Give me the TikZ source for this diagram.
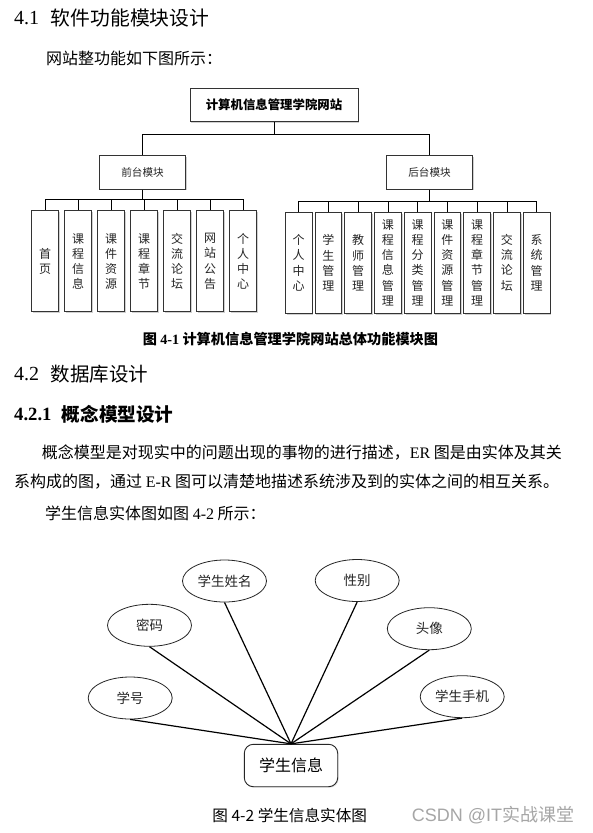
\documentclass[tikz,border=0pt]{standalone}
\usepackage{fontspec}
\setmainfont{Noto Sans CJK SC}
\newfontfamily\lat{Liberation Serif}
\newfontfamily\lsans{Liberation Sans}
\usetikzlibrary{shapes.geometric,shadows}
\newcommand\fsz[2]{\fontsize{#1pt}{#2pt}\selectfont}
\tikzset{
  txt/.style={inner sep=0pt, anchor=west, text=black},
  mbox/.style={draw=black!80, line width=0.9pt, fill=white,
    drop shadow={shadow xshift=1.2pt, shadow yshift=-1.2pt, fill=black!30, opacity=0.6},
    inner sep=0pt, align=center, text=black!85},
  kid/.style={mbox, minimum width=27pt, minimum height=101pt, font=\fsz{12}{15.1}},
  wire/.style={line width=0.9pt, draw=black},
  attr/.style={ellipse, draw=black!85, line width=0.8pt, fill=white, minimum width=84pt,
    minimum height=42pt, inner sep=0pt, font=\fsz{13.5}{16}, text=black!85},
  erline/.style={line width=1.2pt, draw=black},
}
\begin{document}
\begin{tikzpicture}[x=1pt,y=-1pt]
\useasboundingbox (0,0) rectangle (593,833);
\fill[white] (0,0) rectangle (593,833);

% headings and text
\node[txt, font=\lat\fsz{20}{24}] (h1n) at (14,18.2) {4.1};
\node[txt, font=\fsz{19.8}{24}] (h1t) at (50.7,18.2) {软件功能模块设计};
\node[txt, font=\fsz{16}{20}] (p0) at (46,58.7) {网站整功能如下图所示：};

% module chart
\node[mbox, minimum width=168pt, minimum height=33.7pt, font=\bfseries\fsz{12.4}{15}, text=black] (top) at (274,104.9) {计算机信息管理学院网站};
\node[mbox, minimum width=85.6pt, minimum height=33.7pt, font=\fsz{10.6}{13}] (front) at (142.5,172.2) {前台模块};
\node[mbox, minimum width=86.4pt, minimum height=33.7pt, font=\fsz{10.6}{13}] (back) at (429.5,172.2) {后台模块};
\coordinate (tbus) at (274,134);
\draw[wire] (top.south) -- (tbus);
\draw[wire] (tbus) -| (front.north);
\draw[wire] (tbus) -| (back.north);

\coordinate (fbus) at (142.5,199.3);
\coordinate (bbus) at (429.5,201.7);
\draw[wire] (front.south) -- (fbus);
\draw[wire] (back.south) -- (bbus);

\foreach \t [count=\i from 0] in {{首\\页},{课\\程\\信\\息},{课\\件\\资\\源},{课\\程\\章\\节},{交\\流\\论\\坛},{网\\站\\公\\告},{个\\人\\中\\心}}{
  \node[kid] (f\i) at ({45.2+33*\i},261.3) {\t};
  \draw[wire] (fbus) -| (f\i.north);
}
\foreach \t [count=\i from 0] in {{个\\人\\中\\心},{学\\生\\管\\理},{教\\师\\管\\理},{课\\程\\信\\息\\管\\理},{课\\程\\分\\类\\管\\理},{课\\件\\资\\源\\管\\理},{课\\程\\章\\节\\管\\理},{交\\流\\论\\坛},{系\\统\\管\\理}}{
  \node[kid, minimum width=26.7pt] (b\i) at ({298.7+29.75*\i},262.8) {\t};
  \draw[wire] (bbus) -| (b\i.north);
}

\node[font=\bfseries\fsz{14.2}{17}, inner sep=0pt] (cap1) at (290.5,339) {图 {\lat\bfseries 4-1} 计算机信息管理学院网站总体功能模块图};

\node[txt, font=\lat\fsz{20}{24}] (h2n) at (14,374.2) {4.2};
\node[txt, font=\fsz{19.5}{24}] (h2t) at (50.7,374.2) {数据库设计};
\node[txt, font=\lat\bfseries\fsz{18.7}{22}] (h3n) at (14,414) {4.2.1};
\node[txt, font=\bfseries\fsz{18.6}{22}] (h3t) at (61.7,414) {概念模型设计};

\node[txt, font=\fsz{16}{20}] (l1) at (41.7,452.5) {概念模型是对现实中的问题出现的事物的进行描述，{\lat ER} 图是由实体及其关};
\node[txt, font=\fsz{16}{20}] (l2) at (14,482) {系构成的图，通过 {\lat E-R} 图可以清楚地描述系统涉及到的实体之间的相互关系。};
\node[txt, font=\fsz{16}{20}] (l3) at (45,513.5) {学生信息实体图如图 {\lat 4-2} 所示：};

% ER diagram
\node[attr] (xm) at (224.5,581) {学生姓名};
\node[attr] (xb) at (357.2,580.5) {性别};
\node[attr] (mm) at (149.5,625.3) {密码};
\node[attr] (tx) at (429.3,628.7) {头像};
\node[attr] (xh) at (130.2,698) {学号};
\node[attr] (sj) at (462.2,696.7) {学生手机};
\node[draw=black!85, line width=0.9pt, rounded corners=9pt, fill=white,
  drop shadow={shadow xshift=1pt, shadow yshift=-1pt, fill=black!25, opacity=0.5},
  minimum width=93.4pt, minimum height=42.4pt, inner sep=0pt, font=\fsz{16}{19}] (ent) at (291,765.5) {学生信息};
\foreach \a in {xm,xb,mm,tx,xh,sj}{
  \draw[erline] (\a.south) -- (ent.north);
}

\node[font=\fsz{15.6}{18}, inner sep=0pt] (cap2) at (289.7,815.5) {图 4-2 学生信息实体图};
\node[txt, font=\fsz{18}{21}, text=black!35] (wm) at (411.7,815) {{\lsans CSDN @IT}实战课堂};
\end{tikzpicture}
\end{document}
